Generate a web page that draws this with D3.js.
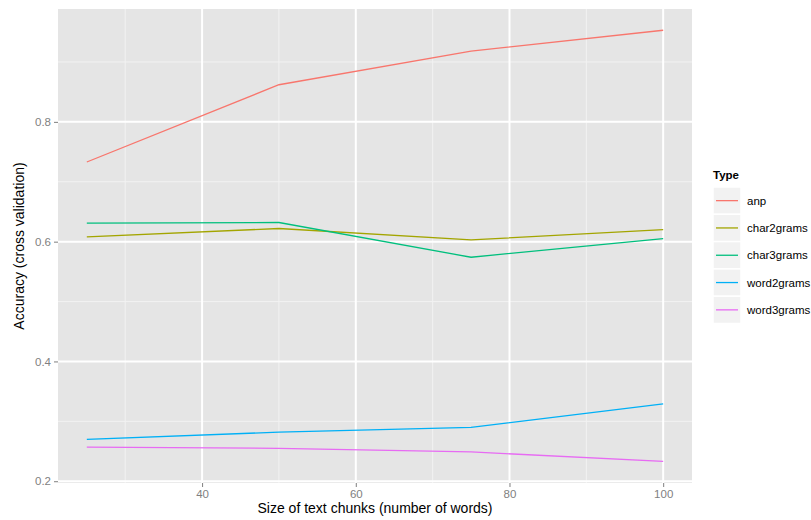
<!DOCTYPE html>
<html><head><meta charset="utf-8">
<script src="https://cdn.jsdelivr.net/npm/d3@7"></script>
<style>body{margin:0;background:#fff;} text{font-family:"Liberation Sans",Arial,sans-serif;}</style>
</head><body><svg id="c" width="811" height="520"></svg>
<script>
const sizes = [25, 50, 75, 100];
const types = ["anp", "char2grams", "char3grams", "word2grams", "word3grams"];
const colors = ["#F8766D", "#A3A500", "#00BF7D", "#00B0F6", "#E76BF3"];
const anp = [0.733, 0.862, 0.918, 0.953];
const char2grams = [0.608, 0.622, 0.603, 0.620];
const char3grams = [0.631, 0.632, 0.574, 0.605];
const word2grams = [0.270, 0.282, 0.290, 0.329];
const word3grams = [0.257, 0.255, 0.249, 0.233];
const xMajor = [40, 60, 80, 100];
const xMinor = [30, 50, 70, 90];
const yMajor = [0.2, 0.4, 0.6, 0.8];
const yMinor = [0.3, 0.5, 0.7, 0.9];
const series = [anp, char2grams, char3grams, word2grams, word3grams];

const svg = d3.select("#c");
const L = 58, R = 692, T = 9, B = 483;
const x = d3.scaleLinear().domain([21.25, 103.75]).range([L, R]);
const y = d3.scaleLinear().domain([0.19705, 0.98845]).range([B, T]);

svg.append("rect").attr("x", L).attr("y", T).attr("width", R - L).attr("height", B - T).attr("fill", "#E5E5E5");
const g = svg.append("g");
xMinor.forEach(v => g.append("line").attr("x1", x(v)).attr("x2", x(v)).attr("y1", T).attr("y2", B).attr("stroke", "#F2F2F2").attr("stroke-width", 1));
yMinor.forEach(v => g.append("line").attr("y1", y(v)).attr("y2", y(v)).attr("x1", L).attr("x2", R).attr("stroke", "#F2F2F2").attr("stroke-width", 1));
xMajor.forEach(v => g.append("line").attr("x1", x(v)).attr("x2", x(v)).attr("y1", T).attr("y2", B).attr("stroke", "#fff").attr("stroke-width", 2));
yMajor.forEach(v => g.append("line").attr("y1", y(v)).attr("y2", y(v)).attr("x1", L).attr("x2", R).attr("stroke", "#fff").attr("stroke-width", 2));

const line = d3.line().x((d, i) => x(sizes[i])).y(d => y(d));
series.forEach((s, k) => {
  svg.append("path").datum(s).attr("d", line).attr("fill", "none").attr("stroke", colors[k]).attr("stroke-width", 1.3);
});

// axes
const xa = svg.append("g").attr("transform", `translate(0,${B})`)
  .call(d3.axisBottom(x).tickValues(xMajor).tickSize(4).tickPadding(3).tickFormat(d3.format("d")));
const ya = svg.append("g").attr("transform", `translate(${L},0)`)
  .call(d3.axisLeft(y).tickValues(yMajor).tickSize(4).tickPadding(3).tickFormat(d3.format(".1f")));
[xa, ya].forEach(a => {
  a.select(".domain").remove();
  a.selectAll(".tick line").attr("stroke", "#7F7F7F");
  a.selectAll(".tick text").attr("fill", "#7F7F7F").style("font-size", "11.5px");
});

svg.append("text").attr("x", (L + R) / 2).attr("y", 513).attr("text-anchor", "middle")
  .style("font-size", "14px").attr("fill", "#000").text("Size of text chunks (number of words)");
svg.append("text").attr("transform", `translate(24,${(T + B) / 2}) rotate(-90)`).attr("text-anchor", "middle")
  .style("font-size", "14px").attr("fill", "#000").text("Accuracy (cross validation)");

// legend
const lg = svg.append("g");
lg.append("text").attr("x", 713).attr("y", 179).style("font-size", "11.5px").style("font-weight", "bold").text("Type");
const ky0 = 187, kh = 27.3;
types.forEach((t, i) => {
  const yy = ky0 + i * kh;
  lg.append("rect").attr("x", 713).attr("y", yy).attr("width", 28).attr("height", kh)
    .attr("fill", "#F2F2F2").attr("stroke", "#fff").attr("stroke-width", 1.5);
  lg.append("line").attr("x1", 716).attr("x2", 738).attr("y1", yy + kh / 2).attr("y2", yy + kh / 2)
    .attr("stroke", colors[i]).attr("stroke-width", 1.3);
  lg.append("text").attr("x", 747).attr("y", yy + kh / 2 + 4).style("font-size", "11.5px").attr("fill", "#000").text(t);
});
</script></body></html>
